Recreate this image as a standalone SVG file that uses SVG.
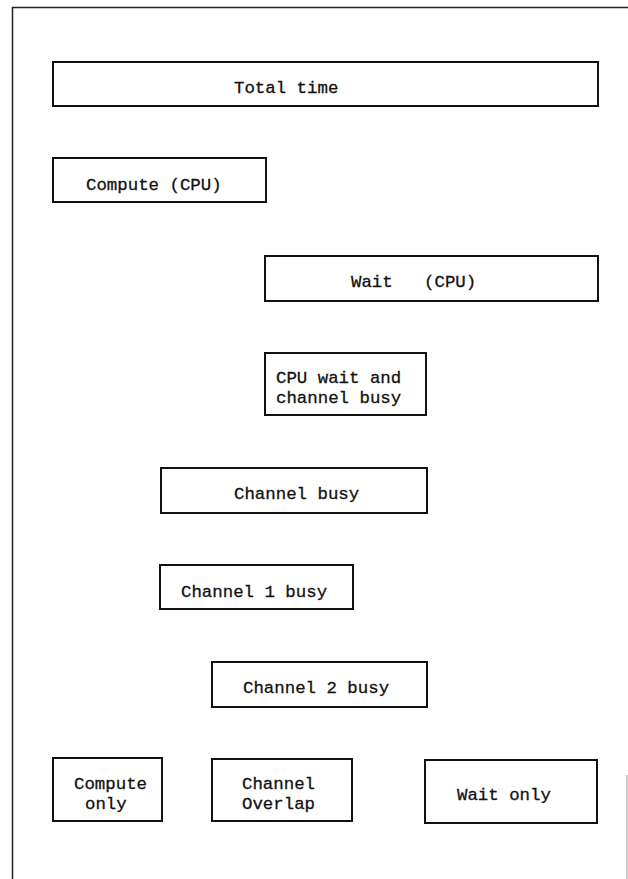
<svg xmlns="http://www.w3.org/2000/svg" width="628" height="879" viewBox="0 0 628 879">
<style>
.box{fill:#fff;stroke:#111;stroke-width:2}
.frame{fill:none;stroke:#222;stroke-width:1.5}
.t{font-family:"Liberation Mono","Courier New",monospace;font-size:17.4px;fill:#111;stroke:#111;stroke-width:0.3;white-space:pre}
</style>
<rect width="628" height="879" fill="#fff"/>
<g id="frame">
<path class="frame" d="M12.5,879 V7.5 H628"/>
<path d="M627,775 V879" fill="none" stroke="#bbb" stroke-width="1.5"/>
</g>
<g id="connectors"></g>
<g id="total-time">
<rect class="box" x="53" y="62" width="545" height="44"/>
<text class="t" x="234" y="93">Total time</text>
</g>
<g id="compute-cpu">
<rect class="box" x="53" y="158" width="213" height="44"/>
<text class="t" x="86" y="190">Compute (CPU)</text>
</g>
<g id="wait-cpu">
<rect class="box" x="265" y="256" width="333" height="45"/>
<text class="t" x="351" y="287" xml:space="preserve">Wait   (CPU)</text>
</g>
<g id="cpu-wait-channel-busy">
<rect class="box" x="265" y="353" width="161" height="62"/>
<text class="t" x="276" y="382.5">CPU wait and</text>
<text class="t" x="276" y="402.5">channel busy</text>
</g>
<g id="channel-busy">
<rect class="box" x="161" y="468" width="266" height="45"/>
<text class="t" x="234" y="499">Channel busy</text>
</g>
<g id="channel-1-busy">
<rect class="box" x="160" y="565" width="193" height="44"/>
<text class="t" x="181" y="597">Channel 1 busy</text>
</g>
<g id="channel-2-busy">
<rect class="box" x="212" y="662" width="215" height="45"/>
<text class="t" x="243" y="693">Channel 2 busy</text>
</g>
<g id="compute-only">
<rect class="box" x="53" y="758" width="109" height="63"/>
<text class="t" x="74" y="788.5">Compute</text>
<text class="t" x="85" y="808.5">only</text>
</g>
<g id="channel-overlap">
<rect class="box" x="212" y="759" width="140" height="62"/>
<text class="t" x="242" y="788.5">Channel</text>
<text class="t" x="242" y="808.5">Overlap</text>
</g>
<g id="wait-only">
<rect class="box" x="425" y="760" width="172" height="63"/>
<text class="t" x="457" y="800">Wait only</text>
</g>
</svg>
